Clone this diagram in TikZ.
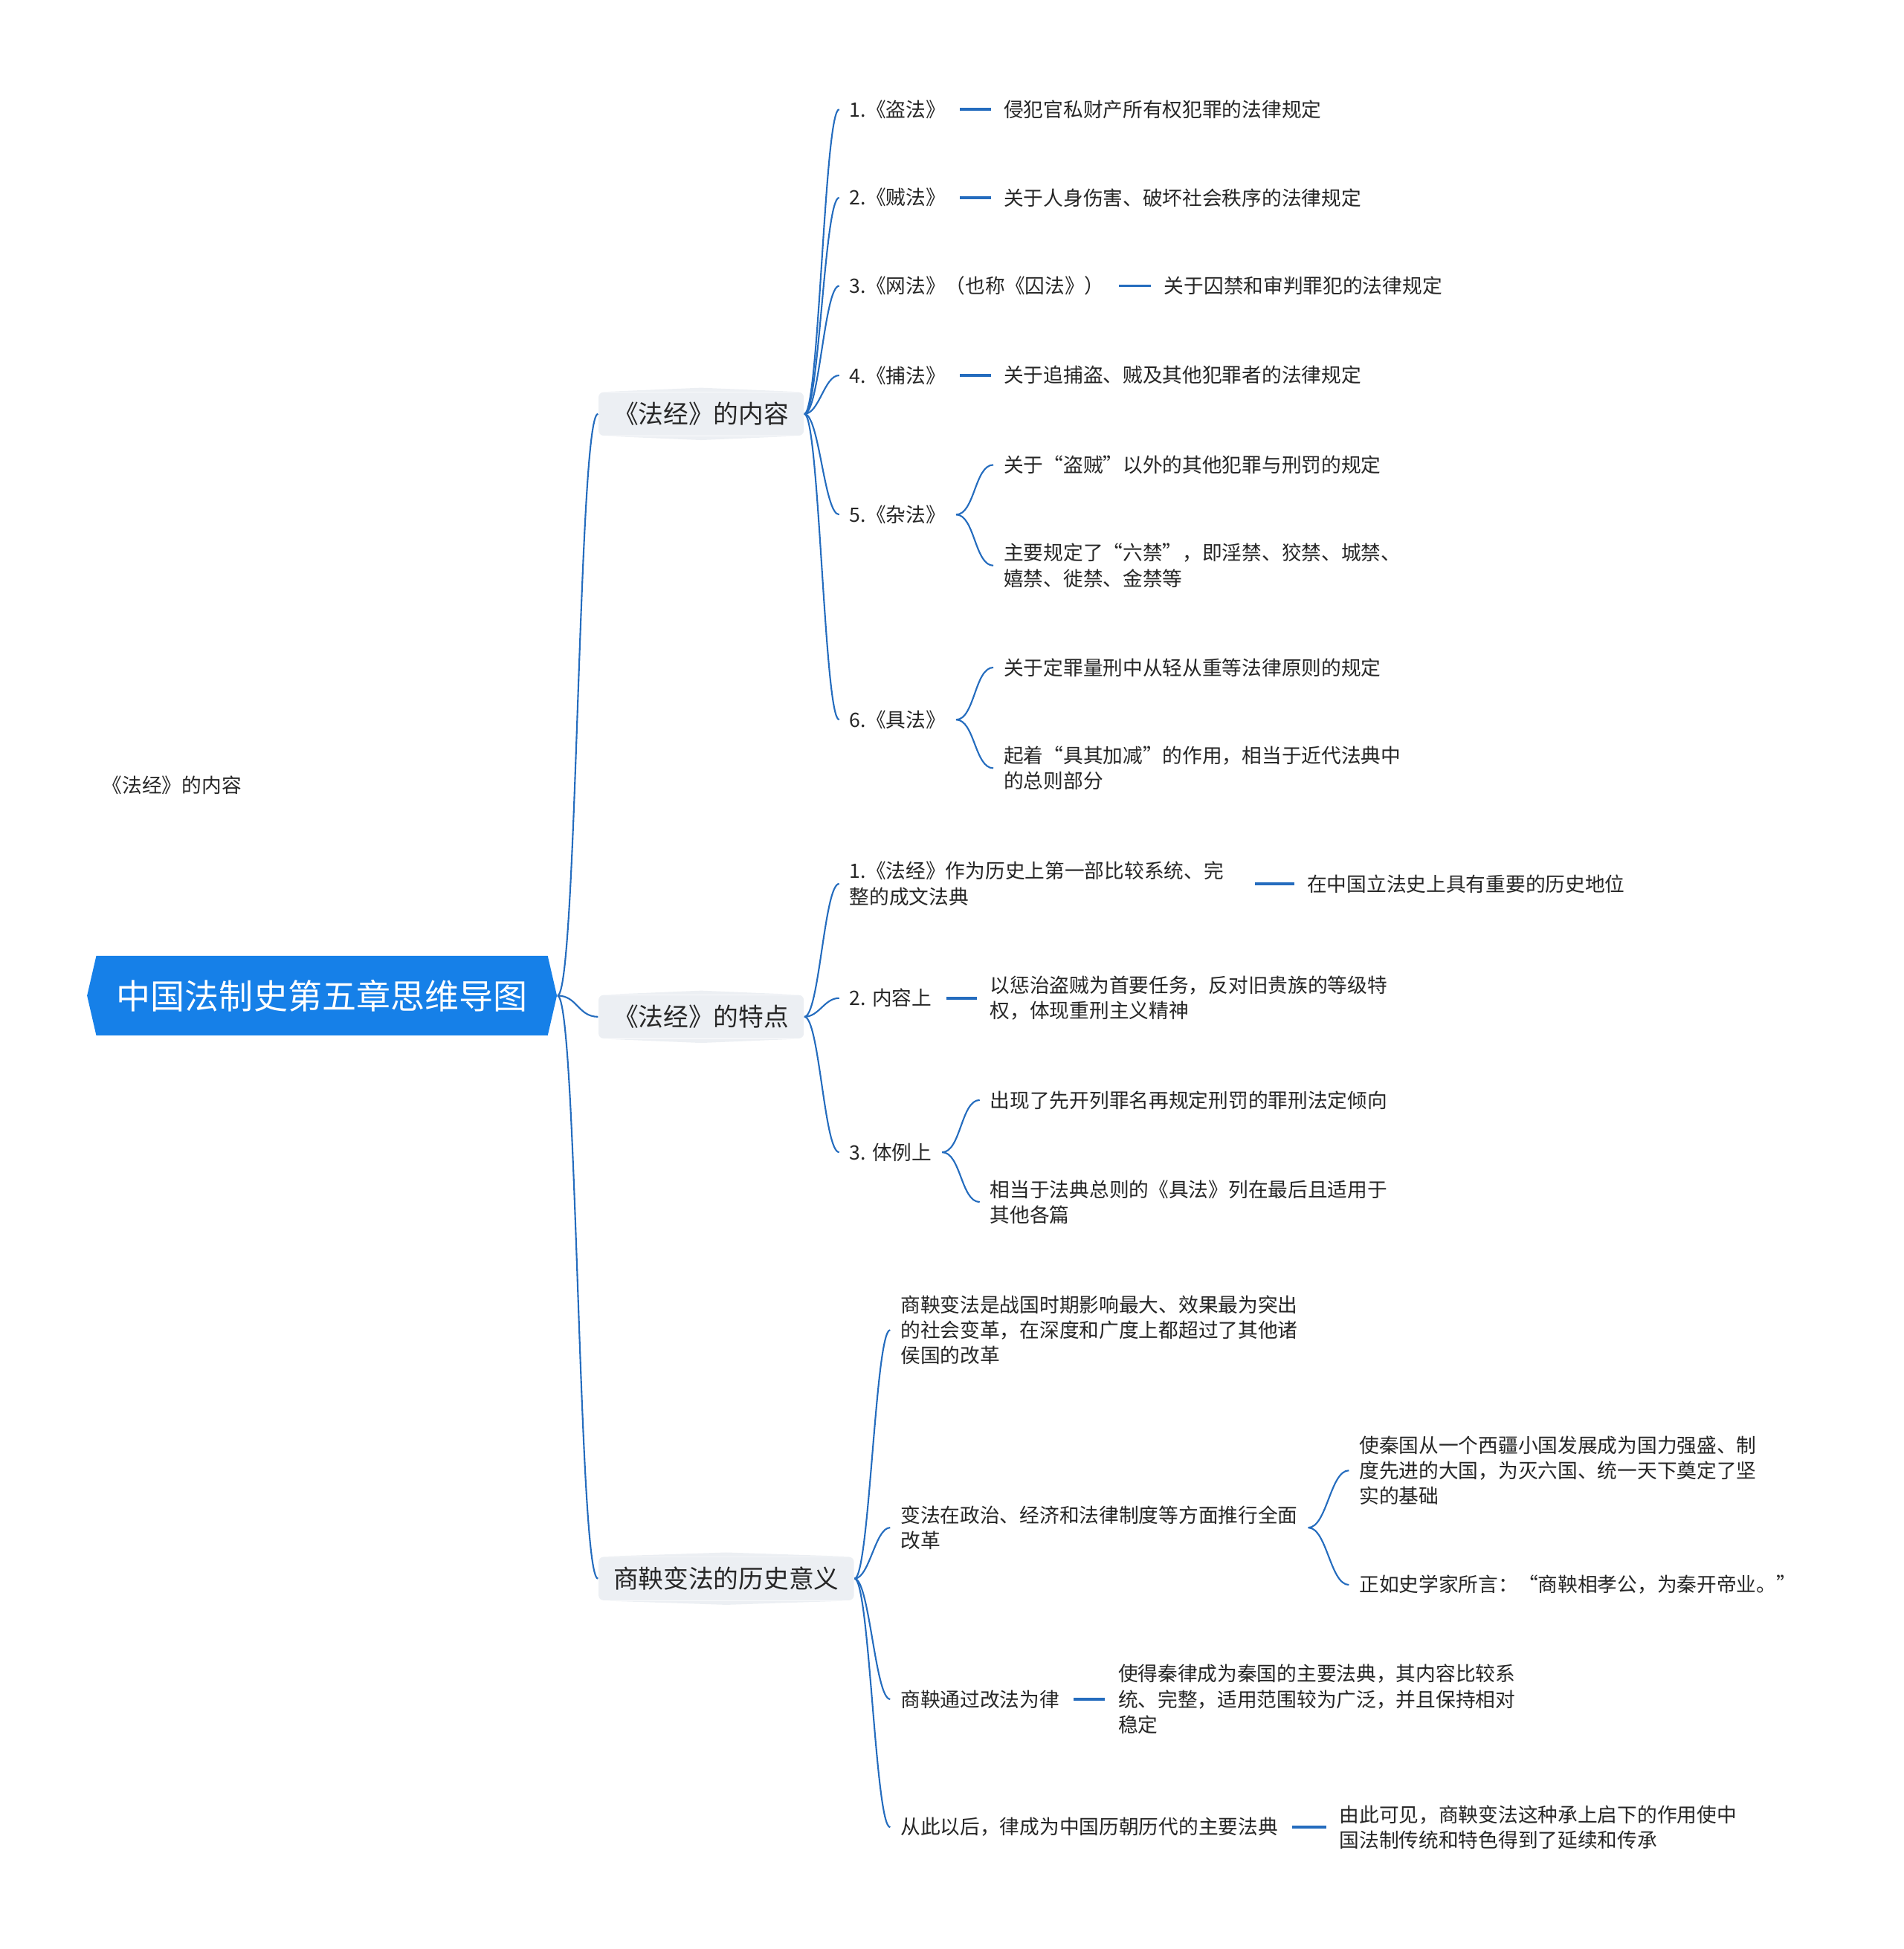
\documentclass[tikz,border=0pt]{standalone}
\usepackage{fontspec}
\setmainfont{Noto Sans CJK SC}
\usepackage{xcolor}
\usepackage{tikz}
\usetikzlibrary{shapes.symbols}
\usetikzlibrary{positioning}

\definecolor{rootblue}{RGB}{22,128,232}
\definecolor{linkblue}{RGB}{36,108,190}
\definecolor{topicgray}{RGB}{236,239,243}
\definecolor{inkgray}{RGB}{38,38,38}

\tikzset{
  rootnode/.style={shape=signal, signal to=east and west, signal pointer angle=154,
    fill=rootblue, text=white, minimum width=6.32cm, minimum height=1.07cm,
    inner sep=0pt, font=\fontsize{13.1}{15}\selectfont},
  topic/.style={fill=topicgray, rounded corners=2pt, minimum height=0.585cm,
    inner xsep=0.2cm, inner ysep=0pt, text=inkgray, font=\fontsize{9.6}{11}\selectfont},
  leaf/.style={inner xsep=0.1338cm, inner ysep=1pt, align=left, text=inkgray,
    font=\fontsize{7.6}{9.75}\selectfont},
  link/.style={draw=linkblue, line width=0.6pt},
  dashlink/.style={draw=linkblue, line width=1pt, shorten <=1.5pt, shorten >=1pt},
}

\begin{document}
\begin{tikzpicture}[x=0.01672cm, y=-0.01672cm]
    \useasboundingbox (0,0) rectangle (1531,1568);

    % root and main topics
    \node[rootnode] (root) at (259,801) {中国法制史第五章思维导图};
    \node[topic, anchor=west] (fajing) at (481,333) {《法经》的内容};
    \node[topic, anchor=west] (tedian) at (481,818) {《法经》的特点};
    \node[topic, anchor=west] (yiyi) at (481,1270) {商鞅变法的历史意义};
    \foreach \t in {fajing,tedian,yiyi} {
        \fill[topicgray] ([xshift=4pt]\t.north west) -- ([yshift=1.5pt]\t.north) -- ([xshift=-4pt]\t.north east) -- cycle;
        \fill[topicgray] ([xshift=4pt]\t.south west) -- ([yshift=-1.5pt]\t.south) -- ([xshift=-4pt]\t.south east) -- cycle;
        \draw[link] (root.east) .. controls +(16,0) and +(-16,0) .. (\t.west);
    }

    \node[leaf, anchor=west] (float) at (74,632) {《法经》的内容};

    % the six chapters
    \node[leaf, anchor=west] (f1) at (675,88) {1.《盗法》};
    \node[leaf, anchor=west] (f1a) at (799,88) {侵犯官私财产所有权犯罪的法律规定};
    \node[leaf, anchor=west] (f2) at (675,159) {2.《贼法》};
    \node[leaf, anchor=west] (f2a) at (799,159) {关于人身伤害、破坏社会秩序的法律规定};
    \node[leaf, anchor=west] (f3) at (675,230) {3.《网法》（也称《囚法》）};
    \node[leaf, anchor=west] (f3a) at (928,230) {关于囚禁和审判罪犯的法律规定};
    \node[leaf, anchor=west] (f4) at (675,302) {4.《捕法》};
    \node[leaf, anchor=west] (f4a) at (799,302) {关于追捕盗、贼及其他犯罪者的法律规定};
    \node[leaf, anchor=west] (f5) at (675,414) {5.《杂法》};
    \node[leaf, anchor=west] (f5a) at (799,374) {关于“盗贼”以外的其他犯罪与刑罚的规定};
    \node[leaf, anchor=west] (f5b) at (799,455) {主要规定了“六禁”，即淫禁、狡禁、城禁、\\嬉禁、徙禁、金禁等};
    \node[leaf, anchor=west] (f6) at (675,579) {6.《具法》};
    \node[leaf, anchor=west] (f6a) at (799,537) {关于定罪量刑中从轻从重等法律原则的规定};
    \node[leaf, anchor=west] (f6b) at (799,618) {起着“具其加减”的作用，相当于近代法典中\\的总则部分};

    \foreach \c in {f1,f2,f3,f4,f5,f6}
        \draw[link] (fajing.east) .. controls +(12,0) and +(-12,0) .. (\c.west);
    \foreach \c in {f1,f2,f3,f4}
        \draw[dashlink] (\c.east) -- (\c a.west);
    \foreach \c in {f5,f6} {
        \draw[link] (\c.east) .. controls +(15,0) and +(-15,0) .. (\c a.west);
        \draw[link] (\c.east) .. controls +(15,0) and +(-15,0) .. (\c b.west);
    }

    % features
    \node[leaf, anchor=west] (t1) at (675,711) {1.《法经》作为历史上第一部比较系统、完\\整的成文法典};
    \node[leaf, anchor=west] (t1a) at (1043,711) {在中国立法史上具有重要的历史地位};
    \node[leaf, anchor=west] (t2) at (675,803) {2. 内容上};
    \node[leaf, anchor=west] (t2a) at (788,803) {以惩治盗贼为首要任务，反对旧贵族的等级特\\权，体现重刑主义精神};
    \node[leaf, anchor=west] (t3) at (675,927) {3. 体例上};
    \node[leaf, anchor=west] (t3a) at (788,885) {出现了先开列罪名再规定刑罚的罪刑法定倾向};
    \node[leaf, anchor=west] (t3b) at (788,967) {相当于法典总则的《具法》列在最后且适用于\\其他各篇};

    \foreach \c in {t1,t2,t3}
        \draw[link] (tedian.east) .. controls +(12,0) and +(-12,0) .. (\c.west);
    \draw[dashlink, shorten <=8pt] (t1.east) -- (t1a.west);
    \draw[dashlink] (t2.east) -- (t2a.west);
    \draw[link] (t3.east) .. controls +(15,0) and +(-15,0) .. (t3a.west);
    \draw[link] (t3.east) .. controls +(15,0) and +(-15,0) .. (t3b.west);

    % significance of the reform
    \node[leaf, anchor=west] (s1) at (716,1070) {商鞅变法是战国时期影响最大、效果最为突出\\的社会变革，在深度和广度上都超过了其他诸\\侯国的改革};
    \node[leaf, anchor=west] (s2) at (716,1229) {变法在政治、经济和法律制度等方面推行全面\\改革};
    \node[leaf, anchor=west] (s2a) at (1085,1183) {使秦国从一个西疆小国发展成为国力强盛、制\\度先进的大国，为灭六国、统一天下奠定了坚\\实的基础};
    \node[leaf, anchor=west] (s2b) at (1085,1275) {正如史学家所言：“商鞅相孝公，为秦开帝业。”};
    \node[leaf, anchor=west] (s3) at (716,1367) {商鞅通过改法为律};
    \node[leaf, anchor=west] (s3a) at (891,1367) {使得秦律成为秦国的主要法典，其内容比较系\\统、完整，适用范围较为广泛，并且保持相对\\稳定};
    \node[leaf, anchor=west] (s4) at (716,1470) {从此以后，律成为中国历朝历代的主要法典};
    \node[leaf, anchor=west] (s4a) at (1069,1470) {由此可见，商鞅变法这种承上启下的作用使中\\国法制传统和特色得到了延续和传承};

    \foreach \c in {s1,s2,s3,s4}
        \draw[link] (yiyi.east) .. controls +(12,0) and +(-12,0) .. (\c.west);
    \draw[link] (s2.east) .. controls +(15,0) and +(-15,0) .. (s2a.west);
    \draw[link] (s2.east) .. controls +(15,0) and +(-15,0) .. (s2b.west);
    \draw[dashlink] (s3.east) -- (s3a.west);
    \draw[dashlink] (s4.east) -- (s4a.west);
\end{tikzpicture}
\end{document}
